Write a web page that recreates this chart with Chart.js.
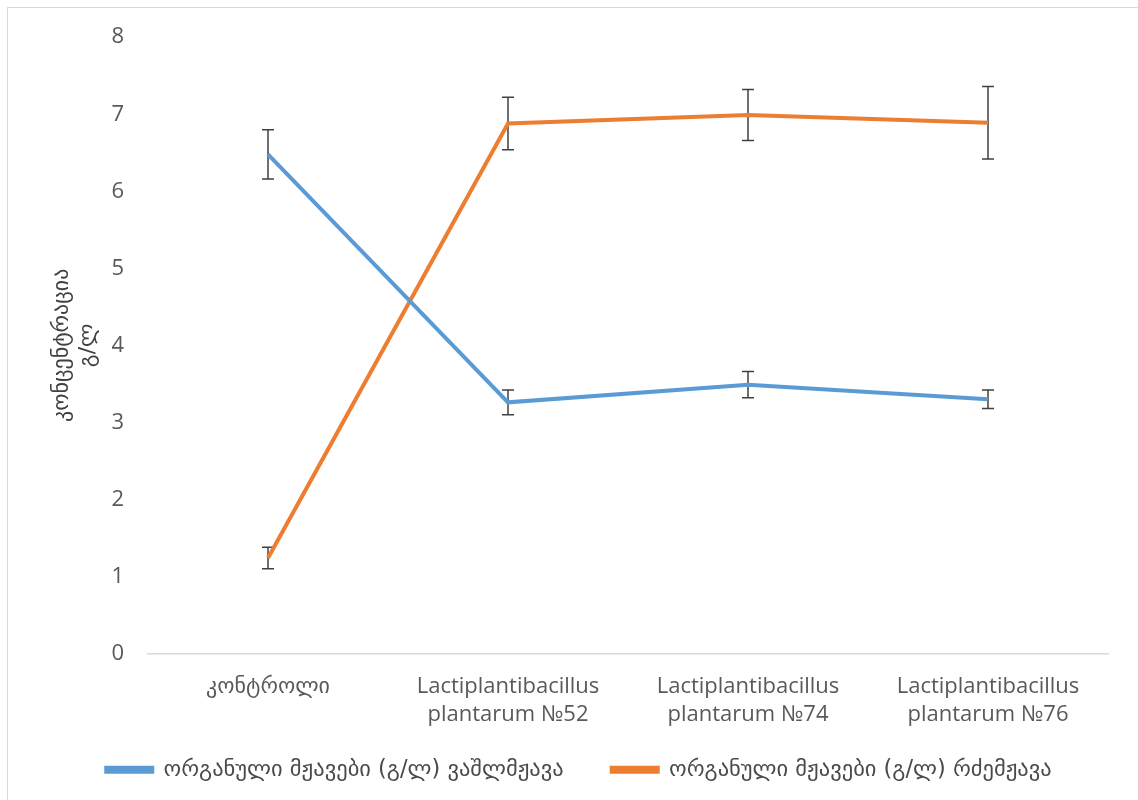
<!DOCTYPE html>
<html>
<head>
<meta charset="utf-8">
<script src="https://cdn.jsdelivr.net/npm/chart.js@4.4.1/dist/chart.umd.min.js"></script>
<style>
  html, body { margin: 0; padding: 0; background: #fff; overflow: hidden; }
  #wrap { position: relative; width: 1138px; height: 800px; }
  #frame { position: absolute; left: 7px; top: 7px; width: 1200px; height: 900px; border: 1px solid #d9d9d9; box-sizing: border-box; pointer-events: none; }
  canvas { position: absolute; left: 0; top: 0; }
</style>
</head>
<body>
<div id="wrap">
  <canvas id="chart" width="1138" height="800"></canvas>
  <div id="frame"></div>
</div>
<script>
// ─── Data ───
const categories = [
  'კონტროლი',
  ['Lactiplantibacillus', 'plantarum №52'],
  ['Lactiplantibacillus', 'plantarum №74'],
  ['Lactiplantibacillus', 'plantarum №76'],
];
const malicAcid  = [6.48, 3.26, 3.49, 3.30];
const malicErr   = [0.32, 0.16, 0.17, 0.12];
const lacticAcid = [1.24, 6.88, 6.99, 6.89];
const lacticErr  = [0.14, 0.34, 0.33, 0.47];
const seriesNames = [
  'ორგანული მჟავები (გ/ლ) ვაშლმჟავა',
  'ორგანული მჟავები (გ/ლ) რძემჟავა',
];
const yTicks = [0, 1, 2, 3, 4, 5, 6, 7, 8];

const BLUE   = '#5b9bd5';
const ORANGE = '#ed7d31';
const FONT   = "'Open Sans', 'DejaVu Sans', sans-serif";
const GEO    = "'DejaVu Sans', sans-serif";

// ─── Error bars (drawn under the lines) ───
const errorBars = {
  id: 'errorBars',
  beforeDatasetsDraw(chart) {
    const { ctx, scales: { y } } = chart;
    ctx.save();
    ctx.strokeStyle = '#404040';
    ctx.lineWidth = 1.5;
    chart.data.datasets.forEach((ds, di) => {
      const meta = chart.getDatasetMeta(di);
      meta.data.forEach((pt, i) => {
        const v = ds.data[i], e = ds.errors[i];
        const top = y.getPixelForValue(v + e);
        const bot = y.getPixelForValue(v - e);
        const x = pt.x;
        ctx.beginPath();
        ctx.moveTo(x, top); ctx.lineTo(x, bot);
        ctx.moveTo(x - 6, top); ctx.lineTo(x + 6, top);
        ctx.moveTo(x - 6, bot); ctx.lineTo(x + 6, bot);
        ctx.stroke();
      });
    });
    ctx.restore();
  }
};

// two-line x labels run into the legend box: widen the label clip area,
// and centre the legend on the whole canvas rather than the padded box
const labelRoom = {
  id: 'labelRoom',
  afterLayout(chart) {
    chart.scales.x.bottom += 30;
    chart.legend.left += 25;
    chart.legend.right += 25;
  }
};

const ctx = document.getElementById('chart').getContext('2d');
new Chart(ctx, {
  type: 'line',
  data: {
    labels: categories,
    datasets: [
      { label: seriesNames[0], data: malicAcid, errors: malicErr,
        borderColor: BLUE, backgroundColor: BLUE, borderWidth: 4, pointRadius: 0, tension: 0 },
      { label: seriesNames[1], data: lacticAcid, errors: lacticErr,
        borderColor: ORANGE, backgroundColor: ORANGE, borderWidth: 4, pointRadius: 0, tension: 0 },
    ],
  },
  options: {
    responsive: false,
    animation: false,
    layout: { padding: { left: 0, right: 30, top: 37, bottom: 9 } },
    plugins: {
      tooltip: { enabled: false },
      legend: {
        position: 'bottom',
        labels: {
          color: '#4a4a4a',
          font: { family: GEO, size: 22.5 },
          boxWidth: 46,
          boxHeight: 4,
          padding: 48,
        },
      },
    },
    scales: {
      x: {
        offset: true,
        grid: { display: false, drawTicks: false },
        border: { display: true, color: '#d9d9d9', width: 1.5 },
        ticks: { color: '#595959', font: { family: FONT, size: 22, lineHeight: 1.27 }, padding: 19, maxRotation: 0 },
        afterFit: s => { s.height = 57; },
      },
      y: {
        min: 0, max: 8,
        afterBuildTicks: s => { s.ticks = yTicks.map(v => ({ value: v })); },
        grid: { display: false, drawTicks: false },
        border: { display: false },
        ticks: { color: '#595959', font: { family: FONT, size: 22 }, padding: 24 },
        title: {
          display: true,
          text: ['კონცენტრაცია', 'გ/ლ'],
          color: '#404040',
          font: { family: GEO, size: 22, lineHeight: 1.15 },
          padding: { top: 50, bottom: 0 },
        },
        afterFit: s => { s.width = 148; },
      },
    },
  },
  plugins: [errorBars, labelRoom],
});
</script>
</body>
</html>
